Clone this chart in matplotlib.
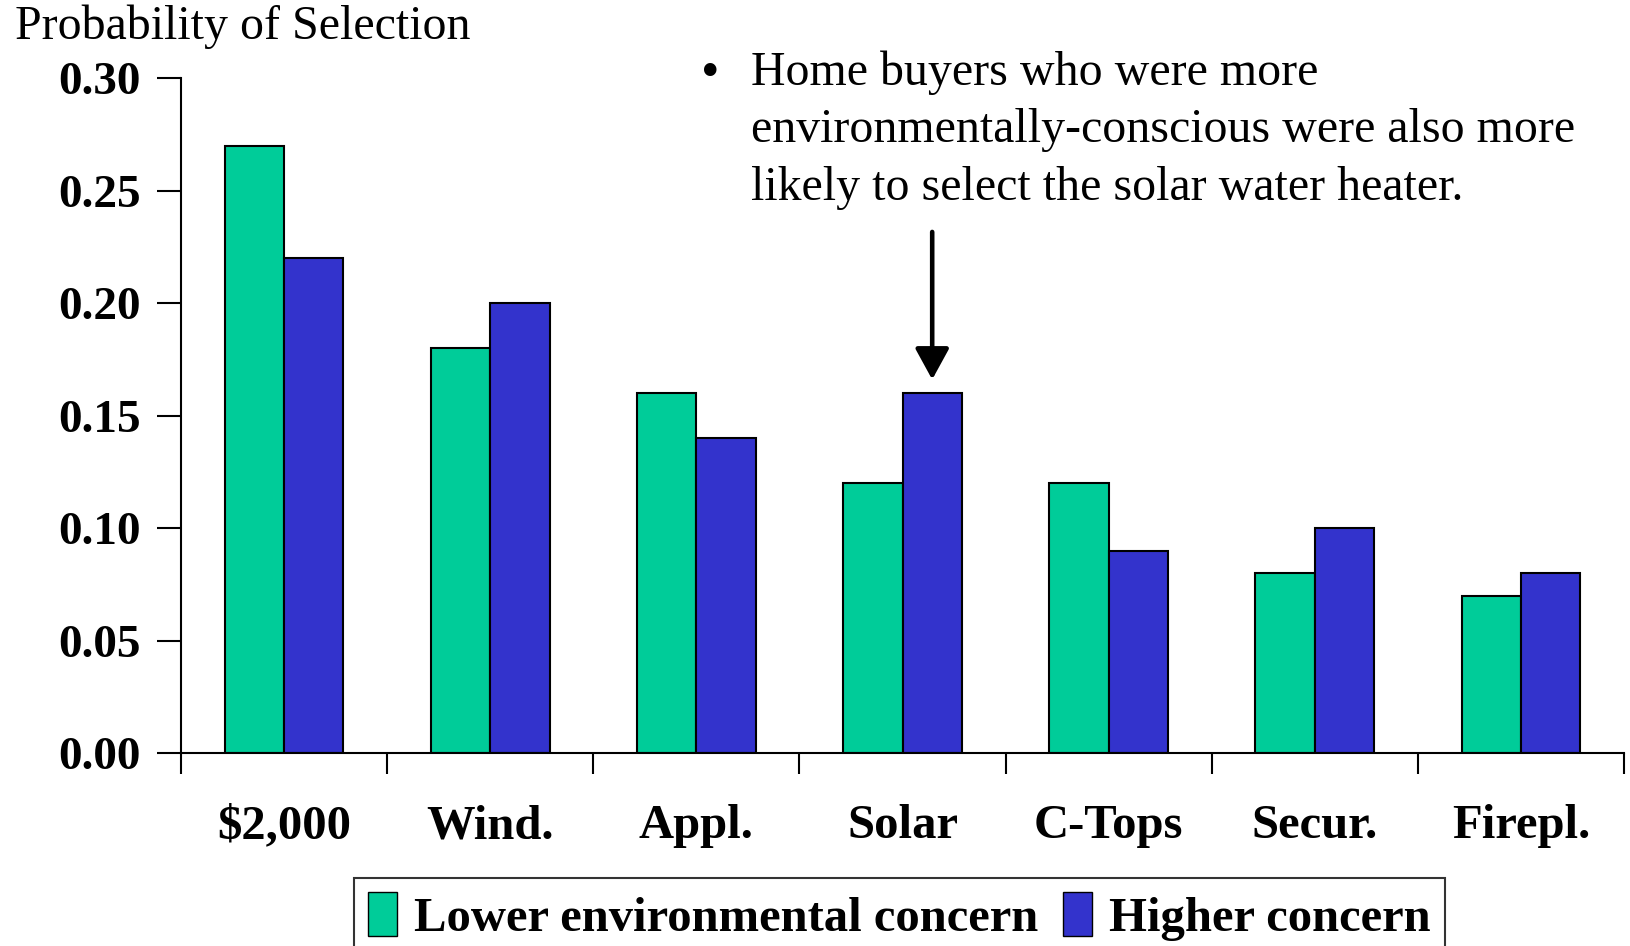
import numpy as np
import matplotlib.pyplot as plt
import matplotlib.transforms as mtransforms
from matplotlib.patches import Patch

categories = ["$2,000", "Wind.", "Appl.", "Solar", "C-Tops", "Secur.", "Firepl."]
lower = [0.27, 0.18, 0.16, 0.12, 0.12, 0.08, 0.07]
higher = [0.22, 0.20, 0.14, 0.16, 0.09, 0.10, 0.08]
yticks = [0.00, 0.05, 0.10, 0.15, 0.20, 0.25, 0.30]

green = "#00CC99"
blue = "#3333CC"

plt.rcParams['font.family'] = ['Liberation Serif', 'DejaVu Serif']

fig = plt.figure(figsize=(16.31, 9.46), dpi=100)
ax = fig.add_axes([0.111, 0.204, 0.8847, 0.7135])

x = np.arange(len(categories))
w = 0.288
ax.bar(x - w / 2, lower, w, color=green, edgecolor="black", linewidth=1.5)
ax.bar(x + w / 2, higher, w, color=blue, edgecolor="black", linewidth=1.5)

ax.set_xlim(-0.5, len(categories) - 0.5)
ax.set_ylim(0, 0.30)
ax.set_yticks(yticks)
ax.set_yticklabels([f"{v:.2f}" for v in yticks], fontsize=34, fontweight="bold")
shift = mtransforms.ScaledTranslation(0, -7 / 100, fig.dpi_scale_trans)
for lab in ax.get_yticklabels():
    lab.set_transform(lab.get_transform() + shift)
ax.set_xticks(np.arange(len(categories) + 1) - 0.5)
ax.set_xticklabels([])
ax.set_xticks(x, minor=True)
ax.set_xticklabels(categories, minor=True, fontsize=35, fontweight="bold")
ax.tick_params(axis="x", which="minor", length=0, pad=37)
ax.tick_params(axis="x", which="major", length=15, width=1.5, direction="out")
ax.tick_params(axis="y", length=17, width=1.5, direction="out", pad=12)
for s in ["top", "right"]:
    ax.spines[s].set_visible(False)
for s in ["left", "bottom"]:
    ax.spines[s].set_linewidth(1.5)

fig.text(0.009, 0.972, "Probability of Selection", fontsize=34.5, va="center", ha="left")

# annotation
fig.text(0.4295, 0.922, "\u2022", fontsize=38, va="center", ha="left")
fig.text(0.4605, 0.9465, "Home buyers who were more\nenvironmentally-conscious were also more\n"
         "likely to select the solar water heater.",
         fontsize=34.5, va="top", ha="left", linespacing=1.39)
ax.annotate("", xy=(3 + w / 2, 0.166), xytext=(3 + w / 2, 0.2316),
            arrowprops=dict(arrowstyle="-|>,head_width=0.52,head_length=0.95",
                            mutation_scale=20, color="black", lw=3.3,
                            shrinkA=0, shrinkB=0))

handles = [Patch(facecolor=green, edgecolor="black"), Patch(facecolor=blue, edgecolor="black")]
leg = fig.legend(handles, ["Lower environmental concern", "Higher concern"],
                 loc="upper center", bbox_to_anchor=(0.5515, 0.072), ncol=2,
                 prop={"size": 35, "weight": "bold"}, frameon=True, fancybox=False,
                 edgecolor="black", handlelength=0.6, handleheight=1.0,
                 handletextpad=0.35, columnspacing=0.5, borderpad=0.3,
                 borderaxespad=0)
leg.get_frame().set_linewidth(1.5)

fig.savefig("out.png", dpi=100)
